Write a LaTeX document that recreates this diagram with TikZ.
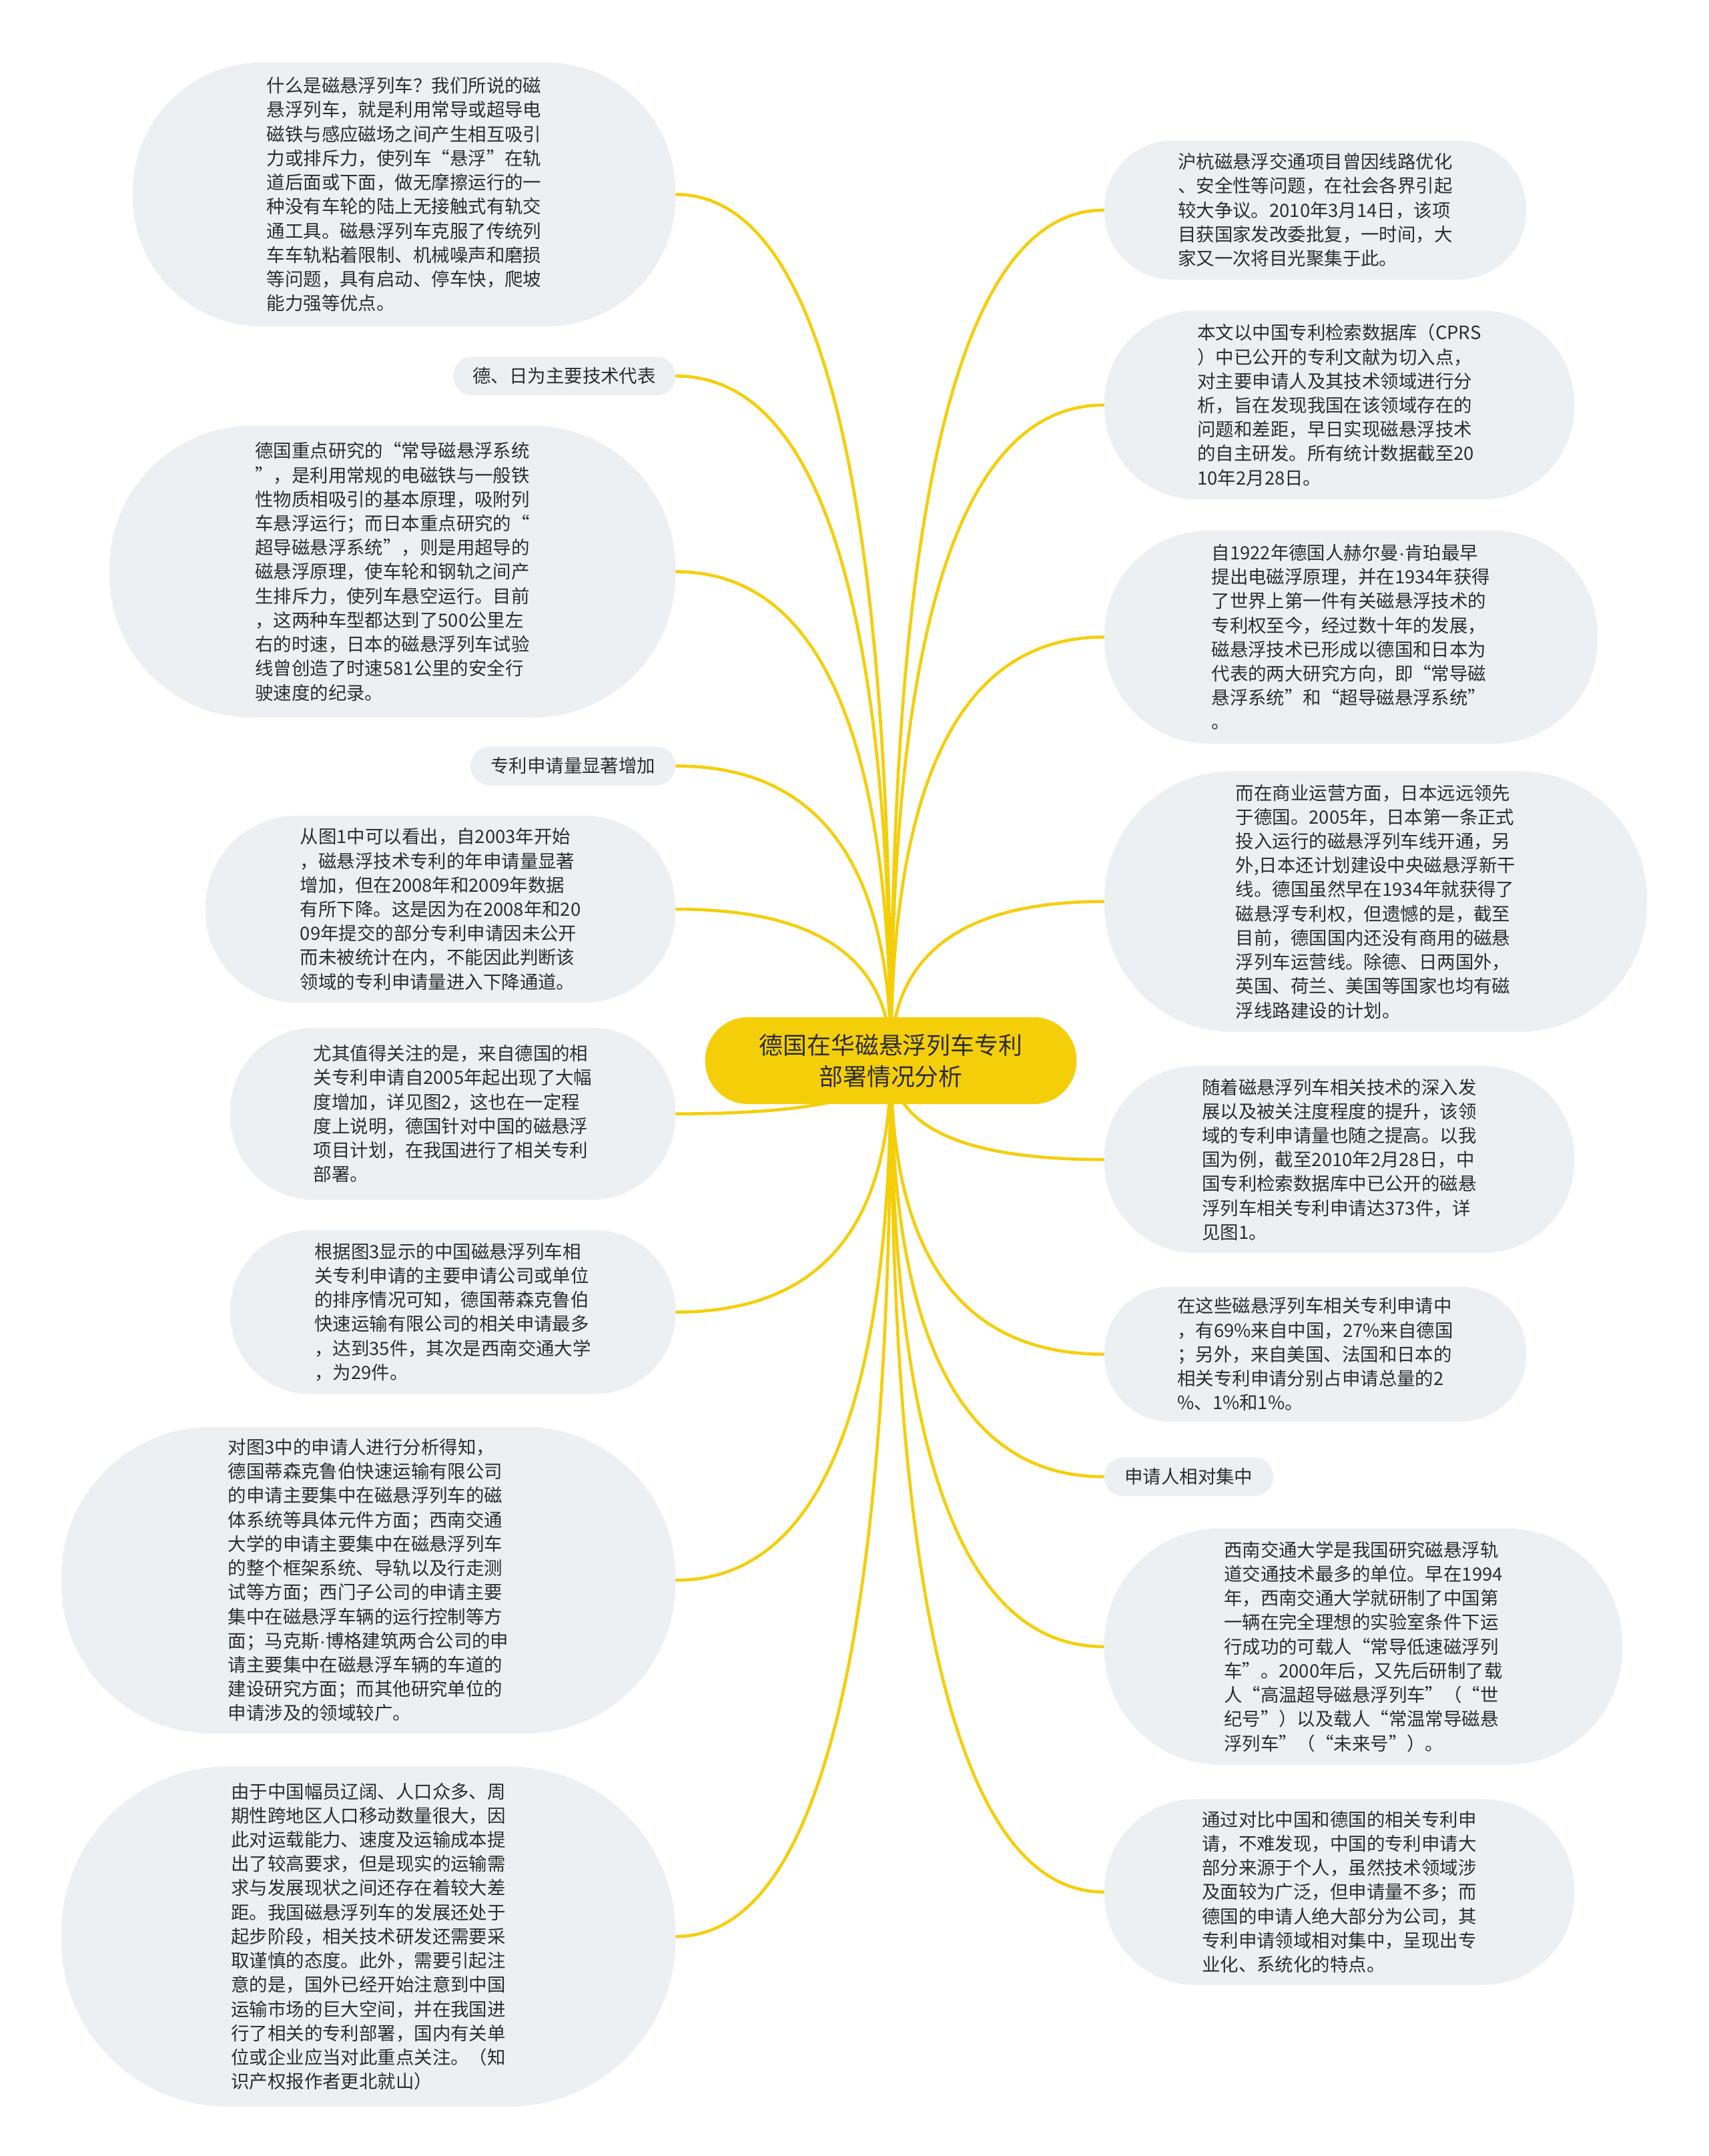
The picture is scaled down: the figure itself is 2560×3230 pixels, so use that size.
\documentclass[tikz,border=0pt]{standalone}
\usepackage{fontspec}
\setmainfont{Noto Sans CJK SC}
\newfontfamily\latinfont{Liberation Sans}
\usetikzlibrary{positioning, calc, backgrounds}
\definecolor{mapyellow}{RGB}{245,206,10}
\definecolor{leafgray}{RGB}{237,240,243}
\definecolor{inkgray}{RGB}{45,45,45}
\newcommand{\leaffont}{\fontsize{7.8pt}{10.3pt}\selectfont}
\newcommand{\rootfont}{\fontsize{10.2pt}{13.4pt}\selectfont}
\newcommand{\middot}{{\latinfont ·}}

\begin{document}
\begin{tikzpicture}[
        x=0.01cm, y=-0.01cm,
        root/.style={rectangle, fill=mapyellow, text=inkgray, font=\rootfont, align=center, inner sep=0pt, minimum width=5.56cm, minimum height=1.3cm, rounded corners=0.64cm},
        leaf/.style 2 args={rectangle, fill=leafgray, text=inkgray, font=\leaffont, align=left, inner sep=0pt, minimum width=#1, minimum height=#2, rounded corners=0.49*#2},
        tag/.style={leaf={#1}{0.58cm}},
        branch/.style={draw=mapyellow, line width=1.3pt, line cap=round, to path={.. controls ($(\tikztostart)!2/3!(\tikztostart |- \tikztotarget)$) and ($(\tikztotarget)!2/3!(\tikztostart |- \tikztotarget)$) .. (\tikztotarget)}}
    ]
        \useasboundingbox (0,0) rectangle (2560,3230);

        \node[root] (root) at (1335,1589) {德国在华磁悬浮列车专利\\部署情况分析};

        % left side
        \node[leaf={8.13cm}{3.95cm}, anchor=north east] (whatis) at (1013,93) {什么是磁悬浮列车？我们所说的磁\\悬浮列车，就是利用常导或超导电\\磁铁与感应磁场之间产生相互吸引\\力或排斥力，使列车“悬浮”在轨\\道后面或下面，做无摩擦运行的一\\种没有车轮的陆上无接触式有轨交\\通工具。磁悬浮列车克服了传统列\\车车轨粘着限制、机械噪声和磨损\\等问题，具有启动、停车快，爬坡\\能力强等优点。};
        \node[tag=3.33cm, below=0.44cm of whatis.south east, anchor=north east] (deri) {德、日为主要技术代表};
        \node[leaf={8.48cm}{4.37cm}, below=0.44cm of deri.south east, anchor=north east] (systems) {德国重点研究的“常导磁悬浮系统\\”，是利用常规的电磁铁与一般铁\\性物质相吸引的基本原理，吸附列\\车悬浮运行；而日本重点研究的“\\超导磁悬浮系统”，则是用超导的\\磁悬浮原理，使车轮和钢轨之间产\\生排斥力，使列车悬空运行。目前\\，这两种车型都达到了500公里左\\右的时速，日本的磁悬浮列车试验\\线曾创造了时速581公里的安全行\\驶速度的纪录。};
        \node[tag=3.07cm, below=0.42cm of systems.south east, anchor=north east] (growth) {专利申请量显著增加};
        \node[leaf={7.04cm}{2.80cm}, below=0.44cm of growth.south east, anchor=north east] (fig1) {从图1中可以看出，自2003年开始\\，磁悬浮技术专利的年申请量显著\\增加，但在2008年和2009年数据\\有所下降。这是因为在2008年和20\\09年提交的部分专利申请因未公开\\而未被统计在内，不能因此判断该\\领域的专利申请量进入下降通道。};
        \node[leaf={6.67cm}{2.58cm}, below=0.36cm of fig1.south east, anchor=north east] (german) {尤其值得关注的是，来自德国的相\\关专利申请自2005年起出现了大幅\\度增加，详见图2，这也在一定程\\度上说明，德国针对中国的磁悬浮\\项目计划，在我国进行了相关专利\\部署。};
        \node[leaf={6.67cm}{2.45cm}, below=0.44cm of german.south east, anchor=north east] (ranking) {根据图3显示的中国磁悬浮列车相\\关专利申请的主要申请公司或单位\\的排序情况可知，德国蒂森克鲁伯\\快速运输有限公司的相关申请最多\\，达到35件，其次是西南交通大学\\，为29件。};
        \node[leaf={9.20cm}{4.59cm}, below=0.48cm of ranking.south east, anchor=north east] (applicants) {对图3中的申请人进行分析得知，\\德国蒂森克鲁伯快速运输有限公司\\的申请主要集中在磁悬浮列车的磁\\体系统等具体元件方面；西南交通\\大学的申请主要集中在磁悬浮列车\\的整个框架系统、导轨以及行走测\\试等方面；西门子公司的申请主要\\集中在磁悬浮车辆的运行控制等方\\面；马克斯\middot 博格建筑两合公司的申\\请主要集中在磁悬浮车辆的车道的\\建设研究方面；而其他研究单位的\\申请涉及的领域较广。};
        \node[leaf={9.20cm}{5.09cm}, below=0.48cm of applicants.south east, anchor=north east] (outlook) {由于中国幅员辽阔、人口众多、周\\期性跨地区人口移动数量很大，因\\此对运载能力、速度及运输成本提\\出了较高要求，但是现实的运输需\\求与发展现状之间还存在着较大差\\距。我国磁悬浮列车的发展还处于\\起步阶段，相关技术研发还需要采\\取谨慎的态度。此外，需要引起注\\意的是，国外已经开始注意到中国\\运输市场的巨大空间，并在我国进\\行了相关的专利部署，国内有关单\\位或企业应当对此重点关注。（知\\识产权报作者更北就山）};

        % right side
        \node[leaf={6.32cm}{2.08cm}, anchor=north west] (huhang) at (1654,210) {沪杭磁悬浮交通项目曾因线路优化\\、安全性等问题，在社会各界引起\\较大争议。2010年3月14日，该项\\目获国家发改委批复，一时间，大\\家又一次将目光聚集于此。};
        \node[leaf={7.04cm}{2.83cm}, below=0.45cm of huhang.south west, anchor=north west] (basis) {本文以中国专利检索数据库（CPRS\\）中已公开的专利文献为切入点，\\对主要申请人及其技术领域进行分\\析，旨在发现我国在该领域存在的\\问题和差距，早日实现磁悬浮技术\\的自主研发。所有统计数据截至20\\10年2月28日。};
        \node[leaf={7.39cm}{3.19cm}, below=0.45cm of basis.south west, anchor=north west] (history) {自1922年德国人赫尔曼\middot 肯珀最早\\提出电磁浮原理，并在1934年获得\\了世界上第一件有关磁悬浮技术的\\专利权至今，经过数十年的发展，\\磁悬浮技术已形成以德国和日本为\\代表的两大研究方向，即“常导磁\\悬浮系统”和“超导磁悬浮系统”\\。};
        \node[leaf={8.13cm}{3.90cm}, below=0.40cm of history.south west, anchor=north west] (commerce) {而在商业运营方面，日本远远领先\\于德国。2005年，日本第一条正式\\投入运行的磁悬浮列车线开通，另\\外,日本还计划建设中央磁悬浮新干\\线。德国虽然早在1934年就获得了\\磁悬浮专利权，但遗憾的是，截至\\目前，德国国内还没有商用的磁悬\\浮列车运营线。除德、日两国外，\\英国、荷兰、美国等国家也均有磁\\浮线路建设的计划。};
        \node[leaf={7.04cm}{2.80cm}, below=0.50cm of commerce.south west, anchor=north west] (total) {随着磁悬浮列车相关技术的深入发\\展以及被关注度程度的提升，该领\\域的专利申请量也随之提高。以我\\国为例，截至2010年2月28日，中\\国专利检索数据库中已公开的磁悬\\浮列车相关专利申请达373件，详\\见图1。};
        \node[leaf={6.32cm}{2.02cm}, below=0.49cm of total.south west, anchor=north west] (origin) {在这些磁悬浮列车相关专利申请中\\，有69\%来自中国，27\%来自德国\\；另外，来自美国、法国和日本的\\相关专利申请分别占申请总量的2\\\%、1\%和1\%。};
        \node[tag=2.53cm, below=0.52cm of origin.south west, anchor=north west] (concen) {申请人相对集中};
        \node[leaf={7.76cm}{3.54cm}, below=0.47cm of concen.south west, anchor=north west] (swjtu) {西南交通大学是我国研究磁悬浮轨\\道交通技术最多的单位。早在1994\\年，西南交通大学就研制了中国第\\一辆在完全理想的实验室条件下运\\行成功的可载人“常导低速磁浮列\\车”。2000年后，又先后研制了载\\人“高温超导磁悬浮列车”（“世\\纪号”）以及载人“常温常导磁悬\\浮列车”（“未来号”）。};
        \node[leaf={7.04cm}{2.78cm}, below=0.50cm of swjtu.south west, anchor=north west] (compare) {通过对比中国和德国的相关专利申\\请，不难发现，中国的专利申请大\\部分来源于个人，虽然技术领域涉\\及面较为广泛，但申请量不多；而\\德国的申请人绝大部分为公司，其\\专利申请领域相对集中，呈现出专\\业化、系统化的特点。};

        \begin{scope}[on background layer]
            \fill[white] (0,0) rectangle (2560,3230);
            % branches to the left
            \draw[branch] (root.center) to (whatis.east);
            \draw[branch] (root.center) to (deri.east);
            \draw[branch] (root.center) to (systems.east);
            \draw[branch] (root.center) to (growth.east);
            \draw[branch] (root.center) to (fig1.east);
            \draw[branch] (root.center) to (german.east);
            \draw[branch] (root.center) to (ranking.east);
            \draw[branch] (root.center) to (applicants.east);
            \draw[branch] (root.center) to (outlook.east);
            % branches to the right
            \draw[branch] (root.center) to (huhang.west);
            \draw[branch] (root.center) to (basis.west);
            \draw[branch] (root.center) to (history.west);
            \draw[branch] (root.center) to (commerce.west);
            \draw[branch] (root.center) to (total.west);
            \draw[branch] (root.center) to (origin.west);
            \draw[branch] (root.center) to (concen.west);
            \draw[branch] (root.center) to (swjtu.west);
            \draw[branch] (root.center) to (compare.west);
        \end{scope}
    \end{tikzpicture}
\end{document}
